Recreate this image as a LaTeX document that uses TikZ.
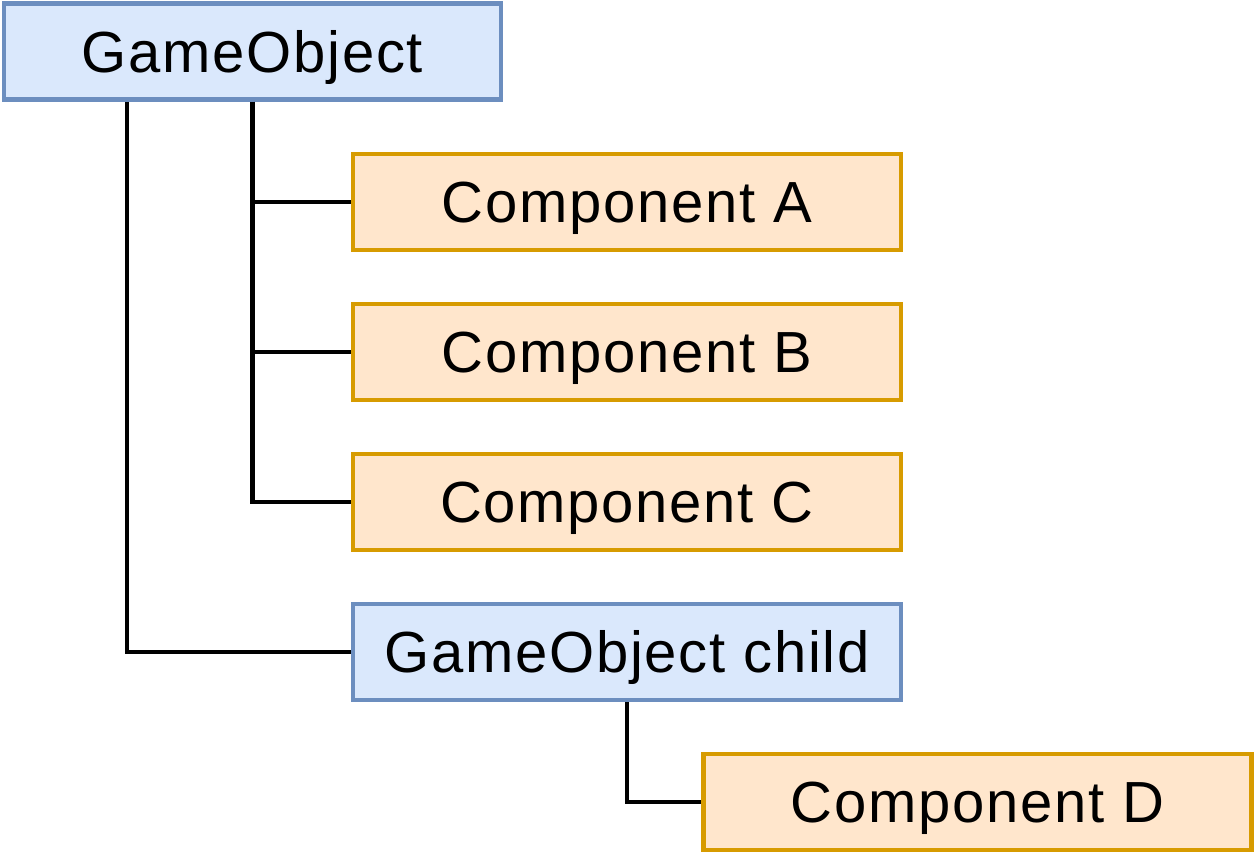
\documentclass[tikz,border=0pt]{standalone}
\usepackage{fontspec}
\setmainfont{Liberation Sans}[LetterSpace=3]
\definecolor{bluefill}{HTML}{DAE8FC}
\definecolor{blueline}{HTML}{6C8EBF}
\definecolor{orangefill}{HTML}{FFE6CC}
\definecolor{orangeline}{HTML}{D79B00}
\tikzset{
  basebox/.style={draw, line width=4.5pt, inner sep=0pt, minimum height=96pt,
    text height=41pt, text depth=0pt,
    font=\fontsize{58}{70}\selectfont, text=black},
  objbox/.style={basebox, fill=bluefill, draw=blueline},
  compbox/.style={basebox, fill=orangefill, draw=orangeline, minimum width=548pt},
  link/.style={draw=black, line width=4.5pt}
}
\begin{document}
\begin{tikzpicture}[x=1pt, y=-1pt]
\useasboundingbox (0,0) rectangle (1255,855);
\node[objbox, minimum width=497pt] (go) at (252.5,51.5) {GameObject};
\node[compbox] (a) at (627,202) {Component A};
\node[compbox] (b) at (627,352) {Component B};
\node[compbox] (c) at (627,502) {Component C};
\node[objbox, minimum width=548pt] (child) at (627,652) {GameObject child};
\node[compbox] (d) at (977.5,802) {Component D};
\coordinate (gol) at ([xshift=-125.5pt]go.south);
\draw[link] (go.south) |- (a.west);
\draw[link] (go.south) |- (b.west);
\draw[link] (go.south) |- (c.west);
\draw[link] (gol) |- (child.west);
\draw[link] (child.south) |- (d.west);
\end{tikzpicture}
\end{document}
